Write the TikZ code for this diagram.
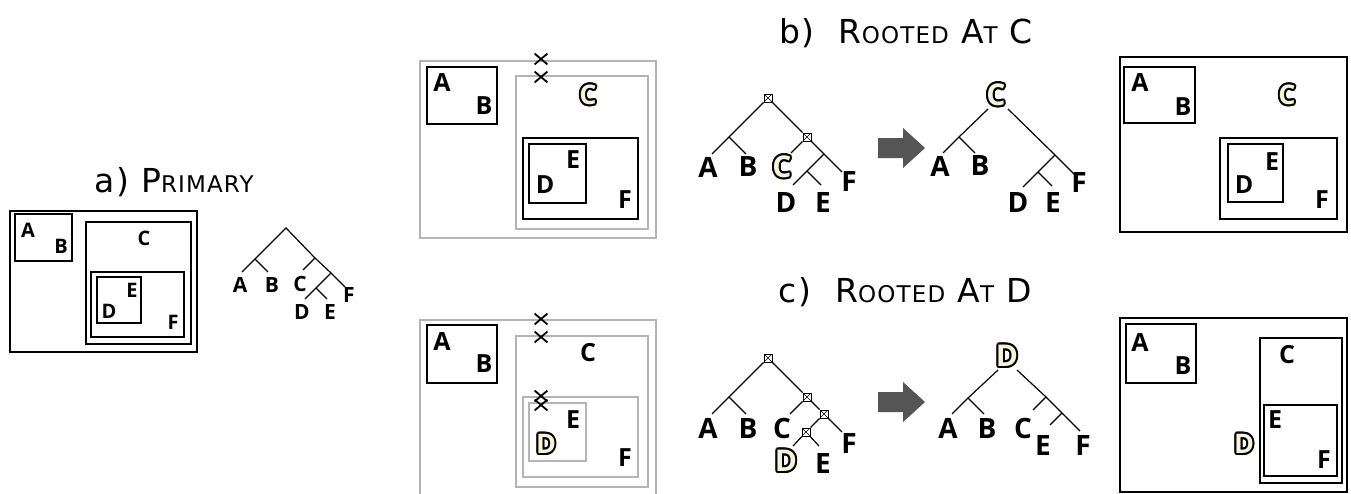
\documentclass[tikz,border=0pt]{standalone}
\usepackage{fontspec}
\newfontfamily\titlefont[LetterSpace=5]{DejaVu Sans}
\newfontfamily\letfont{Open Sans}
\usetikzlibrary{calc,shapes.misc}
\definecolor{boxgray}{HTML}{B4B4B4}
\definecolor{arrgray}{HTML}{555555}
\definecolor{cream}{HTML}{F7F3D6}
\newcommand\tsc[1]{{\fontsize{23}{23}\selectfont #1}}
\newcommand\olcp[3]{\rlap{\kern#1pt\raise#2pt\hbox{\color{black}#3}}}
\newcommand\outl[1]{%
  \olcp{2}{0}{#1}\olcp{1.73}{1}{#1}\olcp{1}{1.73}{#1}\olcp{0}{2}{#1}%
  \olcp{-1}{1.73}{#1}\olcp{-1.73}{1}{#1}\olcp{-2}{0}{#1}\olcp{-1.73}{-1}{#1}%
  \olcp{-1}{-1.73}{#1}\olcp{0}{-2}{#1}\olcp{1}{-1.73}{#1}\olcp{1.73}{-1}{#1}%
  \textcolor{cream}{#1}}
\tikzset{
  lt/.style={font=\letfont\bfseries\fontsize{#1}{#1}\selectfont, inner sep=0pt},
  ttl/.style={font=\titlefont\fontsize{33}{33}\selectfont, inner sep=0pt},
  bbox/.style={draw=black, line width=1.6pt},
  gbox/.style={draw=boxgray, line width=1.8pt},
  tl/.style={draw=black, line width=1.2pt},
  sq/.style={draw, fill=white, minimum size=8pt, inner sep=0pt, line width=1pt,
    path picture={\draw[line width=0.5pt] (path picture bounding box.south west) -- (path picture bounding box.north east)
      (path picture bounding box.north west) -- (path picture bounding box.south east);}},
  xmark/.style={cross out, draw=black, line width=1.8pt, minimum width=11pt, minimum height=9pt, inner sep=0pt},
  barrow/.style={fill=arrgray},
}
\begin{document}
\begin{tikzpicture}[x=1pt,y=-1pt]
\useasboundingbox (0,0) rectangle (1351,493);

% ================= a) Primary =================
\node[ttl] (ta) at (174,182) {a) P\tsc{RIMARY}};
\draw[bbox] (10,211) rectangle (197,352);
\draw[bbox] (15,214) rectangle (72,261);
\draw[bbox] (86,222) rectangle (191,344);
\draw[bbox] (91,272) rectangle (184,337);
\draw[bbox] (97,277) rectangle (141,323);
\node[lt=20] (aA) at (28,230) {A};
\node[lt=20] (aB) at (61,246) {B};
\node[lt=20] (aC) at (144,238) {C};
\node[lt=20] (aE) at (132,290) {E};
\node[lt=20] (aD) at (109,311) {D};
\node[lt=20] (aF) at (173,322) {F};
% tree a
\coordinate (ar) at (286,228);
\coordinate (aab) at (255,259);
\coordinate (aAe) at (242,272);
\coordinate (aBe) at (268,272);
\coordinate (acn) at (315,258);
\coordinate (aCe) at (303,270);
\coordinate (adef) at (331,273);
\coordinate (aFe) at (345,287);
\coordinate (ade) at (316,288);
\coordinate (aDe) at (305,299);
\coordinate (aEe) at (327,299);
\draw[tl] (aAe) -- (aab) -- (ar) -- (acn) -- (adef) -- (aFe);
\draw[tl] (aab) -- (aBe);
\draw[tl] (acn) -- (aCe);
\draw[tl] (adef) -- (ade) -- (aDe);
\draw[tl] (ade) -- (aEe);
\node[lt=21] (atA) at (240,285) {A};
\node[lt=21] (atB) at (272,285) {B};
\node[lt=21] (atC) at (300,284) {C};
\node[lt=21] (atF) at (349,295) {F};
\node[lt=21] (atD) at (302,312) {D};
\node[lt=21] (atE) at (330,312) {E};

% ================= b) Rooted at C =================
\node[ttl] (tb) at (906,33) {b)\ \ R\tsc{OOTED} A\tsc{T} C};
\draw[gbox] (420,61) rectangle (656,238);
\draw[gbox] (516,76) rectangle (648,229);
\draw[bbox] (427,67) rectangle (497,124);
\draw[bbox] (523,138) rectangle (638,219);
\draw[bbox] (529,144) rectangle (586,203);
\node[xmark] (bx1) at (541,59) {};
\node[xmark] (bx2) at (541,77) {};
\node[lt=25] (bA) at (442,83) {A};
\node[lt=25] (bB) at (484,106) {B};
\node[lt=27] (bC) at (588,95) {\outl{C}};
\node[lt=25] (bE) at (573,160) {E};
\node[lt=25] (bD) at (545,185) {D};
\node[lt=25] (bF) at (625,200) {F};
% left tree b
\node[sq] (br) at (768,98) {};
\node[sq] (bs2) at (807,137) {};
\coordinate (bab) at (729,137);
\coordinate (bAe) at (712,154);
\coordinate (bBe) at (746,154);
\coordinate (bCe) at (791,153);
\coordinate (bdef) at (824,154);
\coordinate (bFe) at (842,172);
\coordinate (bde) at (807,171);
\coordinate (bDe) at (793,185);
\coordinate (bEe) at (821,185);
\draw[tl] (br) -- (bab) -- (bAe);
\draw[tl] (bab) -- (bBe);
\draw[tl] (br) -- (bs2);
\draw[tl] (bs2) -- (bCe);
\draw[tl] (bs2) -- (bdef) -- (bFe);
\draw[tl] (bdef) -- (bde) -- (bDe);
\draw[tl] (bde) -- (bEe);
\node[lt=28] (btA) at (708,167) {A};
\node[lt=28] (btB) at (748,167) {B};
\node[lt=30] (btC) at (782,167) {\outl{C}};
\node[lt=28] (btF) at (849,182) {F};
\node[lt=28] (btD) at (786,203) {D};
\node[lt=28] (btE) at (823,203) {E};
% arrow b
\fill[barrow] (878,138) -- (903,138) -- (903,128) -- (925,148) -- (903,168) -- (903,158) -- (878,158) -- cycle;
% right tree b
\node[lt=30] (brC) at (996,95) {\outl{C}};
\coordinate (brl) at (988,109);
\coordinate (brr) at (1008,109);
\coordinate (brab) at (959,137);
\coordinate (brAe) at (943,153);
\coordinate (brBe) at (975,153);
\coordinate (brdef) at (1055,155);
\coordinate (brFe) at (1077,177);
\coordinate (brde) at (1038,172);
\coordinate (brDe) at (1023,187);
\coordinate (brEe) at (1052,186);
\draw[tl] (brl) -- (brab) -- (brAe);
\draw[tl] (brab) -- (brBe);
\draw[tl] (brr) -- (brdef) -- (brFe);
\draw[tl] (brdef) -- (brde) -- (brDe);
\draw[tl] (brde) -- (brEe);
\node[lt=28] (brtA) at (940,166) {A};
\node[lt=28] (brtB) at (980,166) {B};
\node[lt=28] (brtF) at (1079,183) {F};
\node[lt=28] (brtD) at (1018,203) {D};
\node[lt=28] (brtE) at (1053,203) {E};
% right box b
\draw[bbox] (1120,57) rectangle (1347,232);
\draw[bbox] (1124,67) rectangle (1195,123);
\draw[bbox] (1220,138) rectangle (1337,219);
\draw[bbox] (1228,144) rectangle (1283,202);
\node[lt=25] (bbA) at (1140,83) {A};
\node[lt=25] (bbB) at (1183,107) {B};
\node[lt=27] (bbC) at (1287,95) {\outl{C}};
\node[lt=25] (bbE) at (1272,162) {E};
\node[lt=25] (bbD) at (1244,185) {D};
\node[lt=25] (bbF) at (1322,200) {F};

% ================= c) Rooted at D =================
\node[ttl] (tc) at (905,292) {c)\ \ R\tsc{OOTED} A\tsc{T} D};
\draw[gbox] (420,494) -- (420,320) -- (656,320) -- (656,494);
\draw[gbox] (516,336) rectangle (648,487);
\draw[gbox] (523,397) rectangle (638,477);
\draw[gbox] (529,403) rectangle (586,461);
\draw[bbox] (427,325) rectangle (497,383);
\node[xmark] (cx1) at (541,319) {};
\node[xmark] (cx2) at (541,337) {};
\node[xmark] (cx3) at (541,396) {};
\node[xmark] (cx4) at (541,405) {};
\node[lt=25] (cA) at (442,342) {A};
\node[lt=25] (cB) at (484,364) {B};
\node[lt=25] (cC) at (588,353) {C};
\node[lt=25] (cE) at (573,420) {E};
\node[lt=27] (cD) at (546,444) {\outl{D}};
\node[lt=25] (cF) at (625,458) {F};
% left tree c
\node[sq] (cr) at (768,358) {};
\node[sq] (cs2) at (807,397) {};
\node[sq] (cs3) at (824,414) {};
\node[sq] (cs4) at (806,432) {};
\coordinate (cab) at (729,397);
\coordinate (cAe) at (712,414);
\coordinate (cBe) at (746,414);
\coordinate (cCe) at (790,414);
\coordinate (cFe) at (842,432);
\coordinate (cDe) at (793,446);
\coordinate (cEe) at (819,446);
\draw[tl] (cr) -- (cab) -- (cAe);
\draw[tl] (cab) -- (cBe);
\draw[tl] (cr) -- (cs2);
\draw[tl] (cs2) -- (cCe);
\draw[tl] (cs2) -- (cs3);
\draw[tl] (cs3) -- (cFe);
\draw[tl] (cs3) -- (cs4);
\draw[tl] (cs4) -- (cDe);
\draw[tl] (cs4) -- (cEe);
\node[lt=28] (ctA) at (708,428) {A};
\node[lt=28] (ctB) at (748,428) {B};
\node[lt=28] (ctC) at (782,428) {C};
\node[lt=28] (ctF) at (849,443) {F};
\node[lt=30] (ctD) at (786,461) {\outl{D}};
\node[lt=28] (ctE) at (823,463) {E};
% arrow c
\fill[barrow] (878,392) -- (903,392) -- (903,382) -- (925,402) -- (903,422) -- (903,412) -- (878,412) -- cycle;
% right tree c
\node[lt=30] (crD) at (1007,356) {\outl{D}};
\coordinate (crl) at (998,370);
\coordinate (crr) at (1017,370);
\coordinate (crab) at (968,398);
\coordinate (crAe) at (952,414);
\coordinate (crBe) at (984,414);
\coordinate (crcef) at (1046,397);
\coordinate (crCe) at (1033,410);
\coordinate (cref) at (1062,413);
\coordinate (crEe) at (1050,425);
\coordinate (crFe) at (1080,431);
\draw[tl] (crl) -- (crab) -- (crAe);
\draw[tl] (crab) -- (crBe);
\draw[tl] (crr) -- (crcef) -- (cref) -- (crFe);
\draw[tl] (crcef) -- (crCe);
\draw[tl] (cref) -- (crEe);
\node[lt=28] (crtA) at (948,428) {A};
\node[lt=28] (crtB) at (987,428) {B};
\node[lt=28] (crtC) at (1023,428) {C};
\node[lt=28] (crtE) at (1043,445) {E};
\node[lt=28] (crtF) at (1083,445) {F};
% right box c
\draw[bbox] (1120,318) rectangle (1347,492);
\draw[bbox] (1126,324) rectangle (1196,383);
\draw[bbox] (1260,338) rectangle (1342,483);
\draw[bbox] (1264,405) rectangle (1337,476);
\node[lt=25] (ccA) at (1140,343) {A};
\node[lt=25] (ccB) at (1183,366) {B};
\node[lt=25] (ccC) at (1287,355) {C};
\node[lt=25] (ccE) at (1275,420) {E};
\node[lt=25] (ccF) at (1324,460) {F};
\node[lt=27] (ccD) at (1244,444) {\outl{D}};
\end{tikzpicture}
\end{document}
